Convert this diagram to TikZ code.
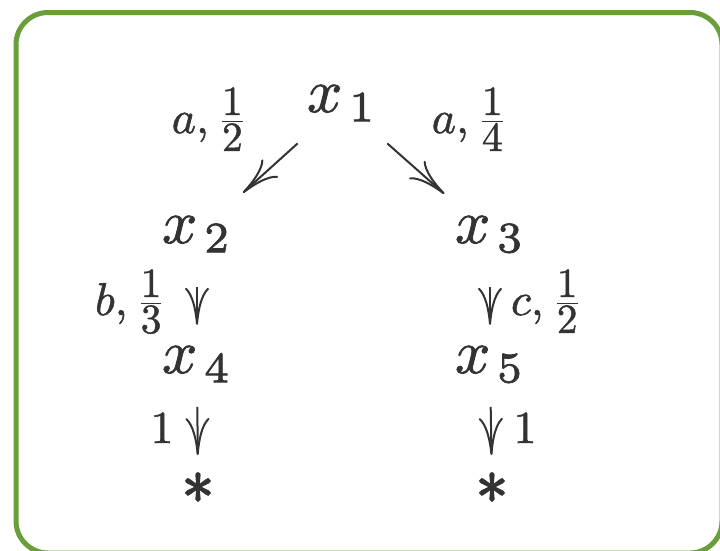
\documentclass[tikz,border=0pt]{standalone}
\usepackage{graphicx}
\usetikzlibrary{arrows.meta}
\definecolor{framegreen}{RGB}{106,158,58}
\definecolor{inkgray}{RGB}{51,51,51}
\newcommand{\heavyink}{\special{pdf:literal direct 2 Tr 0.12 w}}
\newcommand{\heavierink}{\special{pdf:literal direct 2 Tr 0.3 w}}
\newcommand{\lblfrac}[2]{\frac{\scalebox{0.9}{$\textstyle #1$}}{\scalebox{0.9}{$\textstyle #2$}}}
\tikzset{
  vert/.style={anchor=base, inner sep=0pt, text=inkgray, font=\normalsize\heavyink, scale=6.2},
  starnode/.style={anchor=center, inner sep=0pt, text=inkgray, font=\normalsize\heavierink, scale=6.4},
  lab/.style={anchor=base, inner sep=0pt, text=inkgray, font=\normalsize\heavyink, scale=4.6},
  arr/.style={draw=inkgray, line width=2pt, -{Computer Modern Rightarrow[length=37pt,width=24pt]}},
}
\begin{document}
\begin{tikzpicture}[x=1pt,y=-1pt]
\useasboundingbox (0,0) rectangle (720,550);
\begin{scope}
\clip (0,0) rectangle (720,550);
\draw[framegreen, line width=5pt, rounded corners=32pt] (16,12.5) rectangle (722,553);
\end{scope}
% vertices
\node[vert] (x1) at (342,112) {$x_{\kern1.1pt 1}$};
\node[vert] (x2) at (197,243) {$x_{\kern1.1pt 2}$};
\node[vert] (x3) at (490,243) {$x_{\kern1.1pt 3}$};
\node[vert] (x4) at (197,373) {$x_{\kern1.1pt 4}$};
\node[vert] (x5) at (490,373) {$x_{\kern1.1pt 5}$};
\node[starnode] (s1) at (198,488) {$*$};
\node[starnode] (s2) at (492,488) {$*$};
% labels
\node[lab] (l12) at (210,133) {$a,\lblfrac{1}{2}$};
\node[lab] (l13) at (470,133) {$a,\lblfrac{1}{4}$};
\node[lab] (l24) at (131,315) {$b,\lblfrac{1}{3}$};
\node[lab] (l35) at (547,315) {$c,\lblfrac{1}{2}$};
\node[lab] (l4s) at (162,443) {$1$};
\node[lab] (l5s) at (525,443) {$1$};
% arrows
\draw[arr, shorten <=59.8pt, shorten >=62pt] (x1.center) -- (x2.center);
\draw[arr, shorten <=60.5pt, shorten >=61pt] (x1.center) -- (x3.center);
\draw[arr, shorten <=52.5pt, shorten >=39.5pt] (x2.center) -- (x4.center);
\draw[arr, shorten <=52.5pt, shorten >=39.5pt] (x3.center) -- (x5.center);
\draw[arr, shorten <=42.5pt, shorten >=33pt] (x4.center) -- (s1.center);
\draw[arr, shorten <=42.5pt, shorten >=33pt] (x5.center) -- (s2.center);
\end{tikzpicture}
\end{document}
